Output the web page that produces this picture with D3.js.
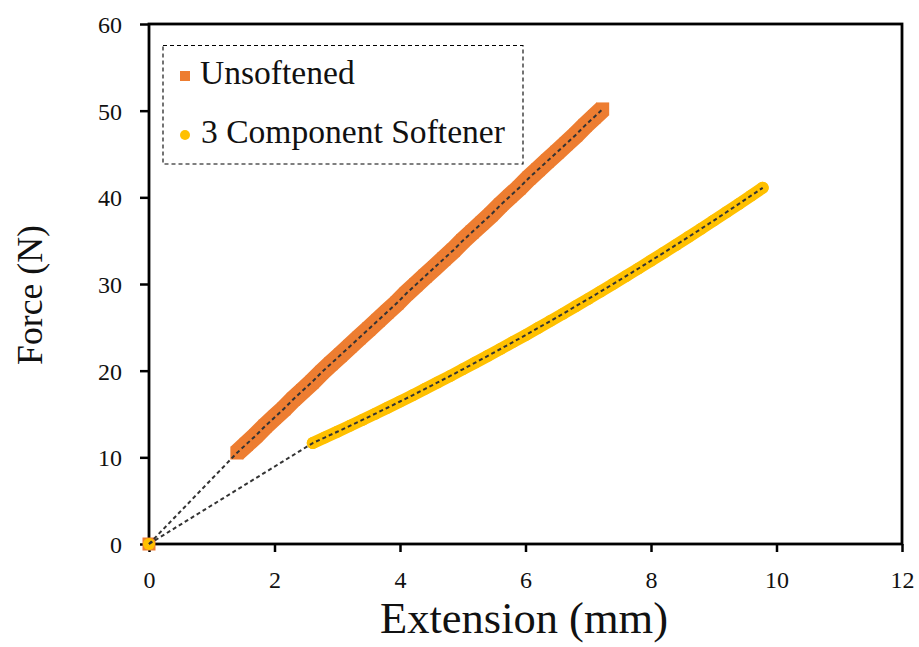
<!DOCTYPE html>
<html><head><meta charset="utf-8">
<script src="https://cdn.jsdelivr.net/npm/d3@7"></script>
<style>body{margin:0;background:#fff}svg{display:block}</style>
</head><body>
<svg id="c" width="919" height="647"></svg>
<script>
// ---- data ----
const xTicks = [0, 2, 4, 6, 8, 10, 12];
const yTicks = [0, 10, 20, 30, 40, 50, 60];
const seriesNames = ["Unsoftened", "3 Component Softener"];
const origin = [[0, 0]];
const unsoftenedX = [1.40,1.55,1.70,1.85,2.00,2.15,2.30,2.45,2.60,2.75,2.90,3.05,3.20,3.35,3.50,3.65,3.80,3.95,4.10,4.25,4.40,4.55,4.70,4.85,5.00,5.15,5.30,5.45,5.60,5.75,5.90,6.05,6.20,6.35,6.50,6.65,6.80,6.95,7.10,7.23];
const unsoftenedY = [10.5,11.5,12.5,13.6,14.6,15.6,16.7,17.7,18.7,19.8,20.8,21.8,22.8,23.8,24.8,25.8,26.8,27.8,28.9,29.9,30.9,31.9,32.9,33.9,35.0,36.0,37.0,38.0,39.1,40.1,41.1,42.2,43.2,44.2,45.2,46.2,47.2,48.3,49.3,50.2];
const softenerX = [2.61,2.80,3.00,3.20,3.40,3.60,3.80,4.00,4.20,4.40,4.60,4.80,5.00,5.20,5.40,5.60,5.80,6.00,6.20,6.40,6.60,6.80,7.00,7.20,7.40,7.60,7.80,8.00,8.20,8.40,8.60,8.80,9.00,9.20,9.40,9.60,9.78];
const softenerY = [11.65,12.28,12.95,13.63,14.32,15.01,15.72,16.44,17.16,17.90,18.64,19.39,20.16,20.93,21.71,22.50,23.30,24.10,24.92,25.75,26.58,27.43,28.28,29.14,30.02,30.90,31.79,32.69,33.60,34.51,35.44,36.38,37.32,38.28,39.24,40.22,41.10];
const colors = ["#ED7D31", "#FFC000"];

const uns = unsoftenedX.map((x, i) => [x, unsoftenedY[i]]);
const sof = softenerX.map((x, i) => [x, softenerY[i]]);

const svg = d3.select("#c");
const font = "'Liberation Serif', 'DejaVu Serif', serif";
const L = 149, R = 902, T = 24, B = 544;
const x = d3.scaleLinear().domain([0, 12]).range([L, R]);
const y = d3.scaleLinear().domain([0, 60]).range([B, T]);

// axes
const gx = svg.append("g").attr("transform", `translate(0,${B})`)
  .call(d3.axisBottom(x).tickValues(xTicks).tickSize(8).tickSizeOuter(0).tickPadding(18));
const gy = svg.append("g").attr("transform", `translate(${L},0)`)
  .call(d3.axisLeft(y).tickValues(yTicks).tickSize(9).tickSizeOuter(0).tickPadding(18));
[gx, gy].forEach(g => {
  g.select(".domain").remove();
  g.selectAll(".tick line").attr("stroke", "#000").attr("stroke-width", 2.5);
  g.selectAll(".tick text").attr("font-family", font).attr("font-size", 24).attr("fill", "#111");
});
gx.selectAll(".tick text").attr("dy", "0.75em");
gy.selectAll(".tick text").attr("dy", "0.35em");

// frame
svg.append("rect").attr("x", L).attr("y", T).attr("width", R - L).attr("height", B - T)
  .attr("fill", "none").attr("stroke", "#000").attr("stroke-width", 2.8);

const line = d3.line().x(d => x(d[0])).y(d => y(d[1]));

// series bands + markers
svg.append("path").datum(uns).attr("d", line).attr("fill", "none")
  .attr("stroke", colors[0]).attr("stroke-width", 18);
svg.append("g").selectAll("rect").data(origin.concat(uns)).join("rect")
  .attr("x", d => x(d[0]) - 6.5).attr("y", d => y(d[1]) - 6.5)
  .attr("width", 13).attr("height", 13).attr("fill", colors[0]);
svg.append("path").datum(sof).attr("d", line).attr("fill", "none")
  .attr("stroke", colors[1]).attr("stroke-width", 12).attr("stroke-linecap", "round");
svg.append("g").selectAll("circle").data(origin.concat(sof)).join("circle")
  .attr("cx", d => x(d[0])).attr("cy", d => y(d[1])).attr("r", 6).attr("fill", colors[1]);

// dashed connecting lines
[uns, sof].forEach(s => {
  svg.append("path").datum(origin.concat(s)).attr("d", line).attr("fill", "none")
    .attr("stroke", "#333").attr("stroke-width", 2).attr("stroke-dasharray", "4,3");
});

// legend
svg.append("rect").attr("x", 163).attr("y", 45.5).attr("width", 360).attr("height", 118.5)
  .attr("fill", "#fff").attr("stroke", "#000").attr("stroke-width", 1.1).attr("stroke-dasharray", "4,3");
svg.append("rect").attr("x", 180).attr("y", 71).attr("width", 10).attr("height", 10).attr("fill", colors[0]);
svg.append("circle").attr("cx", 185).attr("cy", 135).attr("r", 5).attr("fill", colors[1]);
const lt1 = svg.append("text").attr("x", 200).attr("y", 84).text(seriesNames[0]);
const lt2 = svg.append("text").attr("x", 201).attr("y", 143).text(seriesNames[1]);
[lt1, lt2].forEach(t => t.attr("font-family", font).attr("font-size", 27).attr("fill", "#111"));
// fit legend text widths
function fitWidth(t, w) {
  const cur = t.node().getComputedTextLength();
  const fs = +t.attr("font-size");
  t.attr("font-size", fs * w / cur);
}
fitWidth(lt2, 304);
lt1.attr("font-size", lt2.attr("font-size"));

// axis titles
const xt = svg.append("text").attr("x", 524).attr("y", 633).attr("text-anchor", "middle")
  .attr("font-family", font).attr("font-size", 36).attr("fill", "#111").text("Extension (mm)");
fitWidth(xt, 288);
const yt = svg.append("text").attr("transform", "translate(42,295) rotate(-90)").attr("text-anchor", "middle")
  .attr("font-family", font).attr("font-size", 36).attr("fill", "#111").text("Force (N)");
fitWidth(yt, 140);
</script>
</body></html>
